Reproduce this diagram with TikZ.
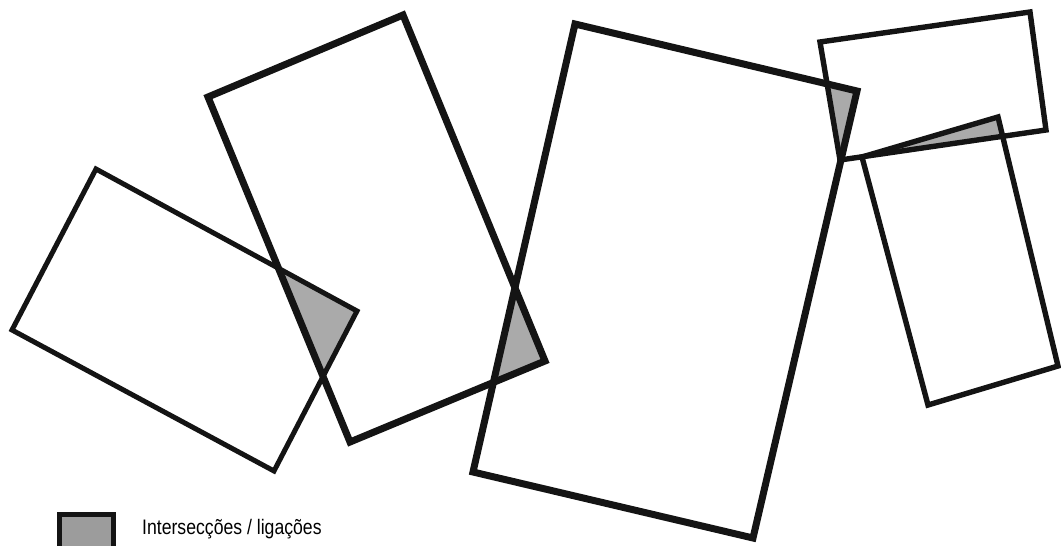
\documentclass[tikz,border=0pt]{standalone}
\usepackage{fontspec}
\setmainfont{Liberation Sans}
\usepackage{graphicx}
\definecolor{shade}{HTML}{AAAAAA}
\definecolor{legshade}{HTML}{9C9C9C}
\definecolor{ink}{HTML}{141414}
\tikzset{
  rectthin/.style={draw=ink, line width=5pt, line join=miter},
  rectmid/.style={draw=ink, line width=5.4pt, line join=miter},
  rectthick/.style={draw=ink, line width=7pt, line join=miter},
  overlap/.style={fill=shade}
}
\begin{document}
\begin{tikzpicture}[x=1pt,y=-1pt]
\useasboundingbox (0,0) rectangle (1061,546);
\clip (0,0) rectangle (1061,546);
% vertices
\coordinate (A1) at (96,169);  \coordinate (A2) at (357,311);
\coordinate (A3) at (274,471); \coordinate (A4) at (12,330);
\coordinate (B1) at (208,97);  \coordinate (B2) at (403,15);
\coordinate (B3) at (545,361); \coordinate (B4) at (350,442);
\coordinate (C1) at (575,24);  \coordinate (C2) at (857,91);
\coordinate (C3) at (753,538); \coordinate (C4) at (473,472);
\coordinate (D1) at (820,42);  \coordinate (D2) at (1030,12);
\coordinate (D3) at (1046,130); \coordinate (D4) at (840,160);
\coordinate (E1) at (862,157); \coordinate (E2) at (998,117);
\coordinate (E3) at (1058,366); \coordinate (E4) at (928,405);
% intersections
\begin{scope}
  \clip (A1) -- (A2) -- (A3) -- (A4) -- cycle;
  \fill[overlap] (B1) -- (B2) -- (B3) -- (B4) -- cycle;
\end{scope}
\begin{scope}
  \clip (B1) -- (B2) -- (B3) -- (B4) -- cycle;
  \fill[overlap] (C1) -- (C2) -- (C3) -- (C4) -- cycle;
\end{scope}
\begin{scope}
  \clip (C1) -- (C2) -- (C3) -- (C4) -- cycle;
  \fill[overlap] (D1) -- (D2) -- (D3) -- (D4) -- cycle;
\end{scope}
\begin{scope}
  \clip (D1) -- (D2) -- (D3) -- (D4) -- cycle;
  \fill[overlap] (E1) -- (E2) -- (E3) -- (E4) -- cycle;
\end{scope}
% outlines
\draw[rectthin]  (A1) -- (A2) -- (A3) -- (A4) -- cycle;
\draw[rectthick] (B1) -- (B2) -- (B3) -- (B4) -- cycle;
\draw[rectthick] (C1) -- (C2) -- (C3) -- (C4) -- cycle;
\draw[rectmid]   (D1) -- (D2) -- (D3) -- (D4) -- cycle;
\draw[rectmid]   (E1) -- (E2) -- (E3) -- (E4) -- cycle;
% legend
\node[draw=ink, line width=4.5pt, fill=legshade, minimum width=54pt, minimum height=38pt,
      inner sep=0pt, anchor=north west] (legbox) at (57,512) {};
\node[anchor=base west, inner sep=0pt, font=\fontsize{21}{24}\selectfont] (legtext) at (142,534)
  {\scalebox{0.84}[1]{Intersecções / ligações}};
\end{tikzpicture}
\end{document}
